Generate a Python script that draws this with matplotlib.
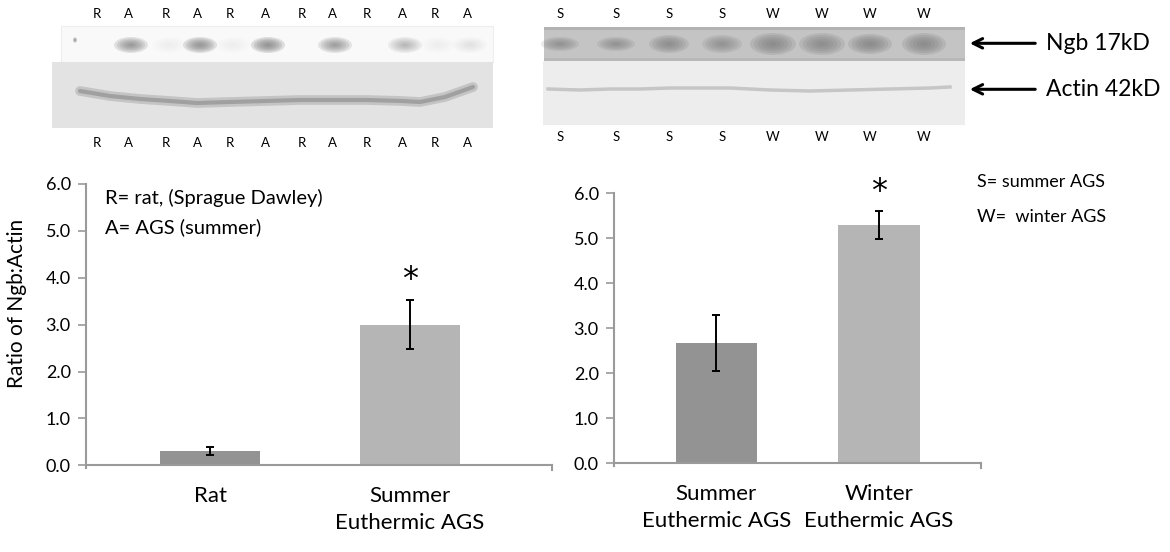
import matplotlib
matplotlib.use("Agg")
import matplotlib.pyplot as plt
from matplotlib.patches import Rectangle, Ellipse

plt.rcParams['font.family'] = ['Lato', 'DejaVu Sans']

# ---------------- data ----------------
left_categories = ['Rat', 'Summer\nEuthermic AGS']
left_values = [0.30, 3.00]
left_errors = [0.08, 0.53]
left_signif = [False, True]

right_categories = ['Summer\nEuthermic AGS', 'Winter\nEuthermic AGS']
right_values = [2.67, 5.30]
right_errors = [0.62, 0.31]
right_signif = [False, True]

y_ticks = [0.0, 1.0, 2.0, 3.0, 4.0, 5.0, 6.0]
y_label = 'Ratio of Ngb:Actin'

left_lanes = ['R', 'A', 'R', 'A', 'R', 'A', 'R', 'A', 'R', 'A', 'R', 'A']
right_lanes = ['S', 'S', 'S', 'S', 'W', 'W', 'W', 'W']
left_note = ['R= rat, (Sprague Dawley)', 'A= AGS (summer)']
right_note = ['S= summer AGS', 'W=  winter AGS']
band_labels = ['Ngb 17kD', 'Actin 42kD']

bar_colors = ['#939393', '#b5b5b5']
axis_color = '#9a9a9a'

W, H = 1170, 552
fig = plt.figure(figsize=(W / 100, H / 100), dpi=100)


def px_axes(x0, x1, ytop, ybot):
    return fig.add_axes([x0 / W, (H - ybot) / H, (x1 - x0) / W, (ybot - ytop) / H])


def bar_panel(ax, cats, vals, errs, sig, xlim):
    pos = list(range(len(cats)))
    ax.bar(pos, vals, width=0.5, color=bar_colors, zorder=2)
    ax.errorbar(pos, vals, yerr=errs, fmt='none', ecolor='black', elinewidth=1.4,
                capsize=3, capthick=1.4, zorder=3)
    for p, v, e, s in zip(pos, vals, errs, sig):
        if s:
            ax.text(p, v + e + 0.44, '*', ha='center', va='center', fontsize=23,
                    family='DejaVu Sans')
    ax.set_xlim(*xlim)
    ax.set_ylim(0, 6)
    ax.set_yticks(y_ticks)
    ax.set_yticklabels(['%.1f' % t for t in y_ticks], fontsize=13)
    ax.set_xticks(pos)
    ax.set_xticklabels(cats, fontsize=16, linespacing=1.45)
    ax.tick_params(axis='x', length=0, pad=15)
    ax.tick_params(axis='y', length=6, width=1.2, color=axis_color, pad=5)
    for sp in ['top', 'right']:
        ax.spines[sp].set_visible(False)
    for sp in ['left', 'bottom']:
        ax.spines[sp].set_color(axis_color)
        ax.spines[sp].set_linewidth(1.5)
    ax.spines['left'].set_bounds(-0.05, 6)
    # end tick on x axis
    ax.plot([xlim[1], xlim[1]], [0, -0.1], color=axis_color, lw=1.5, clip_on=False)
    ax.set_facecolor('none')


axL = px_axes(86, 552, 184, 465.3)
bar_panel(axL, left_categories, left_values, left_errors, left_signif, (-0.62, 1.71))
axL.set_ylabel(y_label, fontsize=15)
axL.yaxis.set_label_coords(-0.127, 0.575)
axL.text(0.04, 0.95, left_note[0], transform=axL.transAxes, fontsize=14.5, va='center')
axL.text(0.04, 0.845, left_note[1], transform=axL.transAxes, fontsize=14.5, va='center')

axR = px_axes(614, 980.7, 193.3, 463.3)
bar_panel(axR, right_categories, right_values, right_errors, right_signif, (-0.629, 1.625))

# ---------------- blot overlay ----------------
ov = fig.add_axes([0, 0, 1, 1], zorder=-1)
ov.set_xlim(0, W)
ov.set_ylim(H, 0)
ov.axis('off')


def soft_band(cx, cy, w, h, color, alpha, n=6):
    for i in range(n):
        f = 1 - i / n
        ov.add_patch(Ellipse((cx, cy), w * f, h * f, color=color, alpha=alpha / n * 1.6,
                             lw=0))


# left blot
ov.add_patch(Rectangle((61, 26), 432, 36, facecolor='#f9f9f9', edgecolor='#eeeeee', lw=0.8))
ov.add_patch(Rectangle((52, 62), 441, 66, facecolor='#e3e3e3', edgecolor='none'))
left_lane_x = [97, 128, 166, 197, 230, 265, 302, 332, 367, 402, 435, 467]
ngb_left_strength = [0.0, 0.7, 0.05, 0.75, 0.05, 0.8, 0.0, 0.65, 0.0, 0.4, 0.05, 0.1]
for x, s in zip(left_lane_x, ngb_left_strength):
    if s > 0:
        soft_band(x + 3, 45, 34, 16, '#7a7a7a', s)
soft_band(75, 40, 4, 5, '#888888', 0.6, n=2)
act_x = [80, 110, 140, 170, 197, 230, 265, 300, 332, 367, 402, 420, 445, 473]
act_y = [91, 96, 99, 101, 103, 102, 101, 100, 100, 100, 101, 102, 97, 87]
ov.plot(act_x, act_y, color='#a0a0a0', lw=7, alpha=0.45, solid_capstyle='round')
ov.plot(act_x, act_y, color='#8e8e8e', lw=3, alpha=0.65, solid_capstyle='round')

for x, t in zip(left_lane_x, left_lanes):
    ov.text(x, 14, t, ha='center', va='center', fontsize=9.5)
    ov.text(x, 143, t, ha='center', va='center', fontsize=9.5)

# right blot
ov.add_patch(Rectangle((544, 27), 421, 34, facecolor='#c4c4c4', edgecolor='none'))
ov.add_patch(Rectangle((544, 27), 421, 3, facecolor='#b2b2b2', edgecolor='none'))
ov.add_patch(Rectangle((544, 58), 421, 3, facecolor='#b8b8b8', edgecolor='none'))
ov.add_patch(Rectangle((543, 61), 422, 64, facecolor='#ededed', edgecolor='none'))
right_lane_x = [560, 616, 669, 722, 773, 822, 870, 924]
ngb_right_w = [38, 38, 40, 40, 46, 46, 44, 44]
ngb_right_h = [14, 14, 18, 18, 22, 22, 20, 22]
ngb_right_strength = [0.6, 0.6, 0.7, 0.6, 0.8, 0.75, 0.8, 0.8]
for x, w, h, s in zip(right_lane_x, ngb_right_w, ngb_right_h, ngb_right_strength):
    soft_band(x, 44, w, h, '#7e7e7e', s)
ov.plot([548, 580, 610, 640, 670, 700, 730, 770, 810, 850, 890, 930, 950],
        [89, 90, 89, 89, 88, 88, 88, 90, 91, 90, 89, 88, 87],
        color='#c2c2c2', lw=2.5, alpha=0.9)
for x, t in zip(right_lane_x, right_lanes):
    ov.text(x, 14, t, ha='center', va='center', fontsize=9.5)
    ov.text(x, 137, t, ha='center', va='center', fontsize=9.5)

# arrows and labels
for y, lab in zip([43.3, 89.3], band_labels):
    ov.annotate('', xy=(967, y), xytext=(1038, y),
                arrowprops=dict(arrowstyle='->', lw=2.2, color='black',
                                mutation_scale=17))
    ov.text(1046, y, lab, ha='left', va='center', fontsize=16.5)

# right notes
fig.text(977 / W, 1 - 182 / H, right_note[0], fontsize=13, va='center')
fig.text(977 / W, 1 - 217 / H, right_note[1], fontsize=13, va='center')

fig.savefig('out.png', dpi=100, facecolor='white')
